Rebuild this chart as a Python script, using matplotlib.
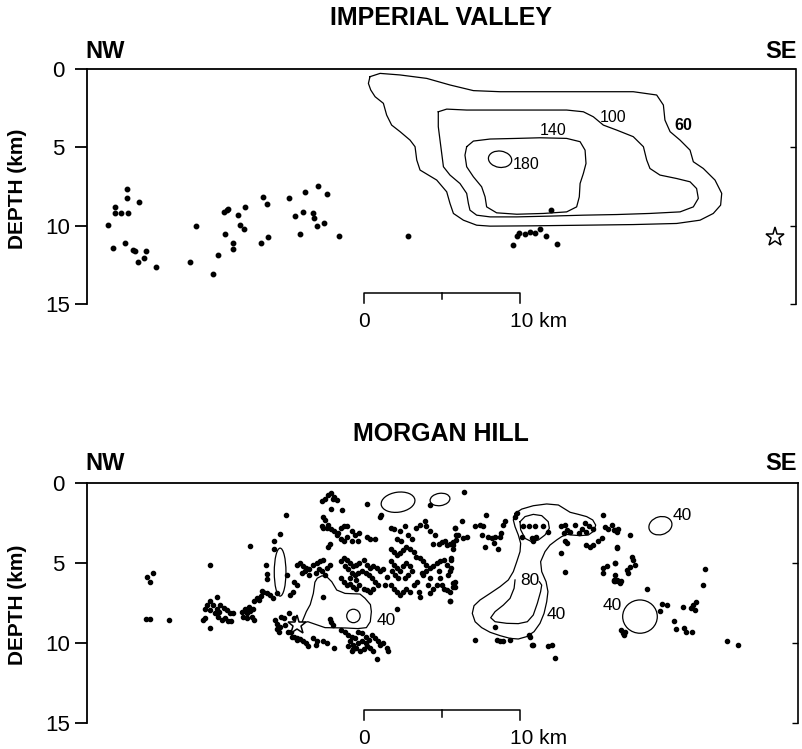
import matplotlib
matplotlib.use('Agg')
import matplotlib.pyplot as plt
from matplotlib.patches import Ellipse

plt.rcParams['font.family'] = ['Liberation Sans', 'DejaVu Sans']

# ---------------- DATA ----------------
depth_ticks = [0, 5, 10, 15]
depth_labels = ['0', '5', '10', '15']

# Imperial Valley earthquakes (x along strike km, depth km)
iv_eq_x = [-16.39, -16.07, -15.96, -15.96, -15.58, -15.17, -15.17, -15.11, -15.32, -14.83,
           -14.68, -14.47, -14.40, -14.10, -13.97, -13.35, -11.15, -10.79, -9.66, -9.34,
           -8.95, -8.80, -8.70, -8.89, -8.42, -8.38, -8.10, -7.95, -7.67, -7.61,
           -6.60, -6.45, -6.24, -6.18, -4.79, -4.42, -4.10, -3.78, -3.89, -3.25,
           -3.21, -3.03, -2.93, -2.56, -2.35, -1.58,
           2.84, 11.99, 9.57, 9.79, 9.96, 10.32, 10.64, 10.96, 11.28, 11.65, 12.39]
iv_eq_d = [9.97, 11.42, 8.80, 9.22, 9.22, 7.69, 8.26, 9.18, 11.08, 11.57,
           11.63, 12.31, 8.48, 12.06, 11.63, 12.67, 12.31, 10.03, 13.06, 11.88,
           9.12, 9.01, 8.95, 10.50, 11.08, 11.50, 9.33, 9.93, 10.22, 8.80,
           11.08, 8.16, 8.63, 10.71, 8.22, 9.39, 10.54, 7.88, 9.12, 9.16,
           9.54, 10.01, 7.45, 9.80, 8.01, 10.63,
           10.67, 9.01, 11.25, 10.65, 10.46, 10.50, 10.42, 10.44, 10.20, 10.65, 11.18]
iv_star = (26.35, 10.71)

# Imperial Valley slip contours (cm)
iv_c60_x = [0.38, 1.03, 2.31, 4.02, 5.51, 7.01, 8.72, 10.85, 14.06, 17.26, 18.76, 19.19, 19.29,
            19.62, 20.26, 20.90, 21.11, 21.75, 22.50, 22.93, 22.86, 22.39, 21.54, 20.04, 17.26,
            14.06, 10.85, 8.08, 7.22, 6.37, 5.73, 5.51, 5.30, 4.66, 3.59, 3.38, 3.27, 2.95, 2.31,
            1.77, 1.45, 1.24, 0.71, 0.43, 0.28, 0.38]
iv_c60_d = [0.49, 0.28, 0.38, 0.60, 1.02, 1.38, 1.45, 1.45, 1.45, 1.45, 1.66, 2.30, 3.26,
            4.00, 4.54, 5.18, 5.92, 6.35, 7.09, 7.94, 8.69, 9.22, 9.65, 9.86, 9.93,
            9.97, 10.01, 10.03, 9.97, 9.65, 9.22, 8.58, 7.84, 7.09, 6.45, 5.81, 4.96, 4.54, 4.00,
            3.58, 2.94, 2.19, 1.77, 1.34, 0.92, 0.49]
iv_c100_x = [4.76, 5.30, 6.58, 8.72, 10.85, 12.99, 14.06, 14.70, 15.34, 16.20, 17.26, 17.91, 18.12,
             18.33, 18.97, 20.04, 20.90, 21.32, 21.43, 21.11, 20.26, 18.33, 16.20, 14.06, 11.92,
             9.79, 8.08, 7.22, 6.79, 6.69, 6.58, 6.15, 5.51, 5.09, 4.98, 4.87, 4.76, 4.76]
iv_c100_d = [2.73, 2.56, 2.62, 2.62, 2.62, 2.62, 2.73, 3.05, 3.58, 3.90, 4.32, 4.96, 5.81,
             6.35, 6.77, 6.99, 7.20, 7.63, 8.26, 8.80, 9.12, 9.22, 9.29, 9.33, 9.39,
             9.44, 9.44, 9.33, 9.01, 8.58, 7.94, 7.31, 6.77, 6.24, 5.39, 4.54, 3.68, 2.73]
iv_c140_x = [6.58, 7.01, 8.08, 9.79, 11.28, 12.99, 13.85, 14.17, 14.23, 14.06, 13.85, 13.80,
             13.63, 12.99, 11.50, 9.79, 8.50, 7.86, 7.76, 7.54, 7.01, 6.58, 6.47, 6.58]
iv_c140_d = [4.96, 4.60, 4.47, 4.43, 4.39, 4.43, 4.64, 5.18, 6.03, 6.67, 7.31, 8.16,
             8.80, 9.12, 9.22, 9.27, 9.18, 8.80, 8.16, 7.52, 6.88, 6.24, 5.50, 4.96]
iv_c180 = (8.72, 5.76, 1.5, 1.04)  # centre x, centre depth, width, height
iv_labels = ['60', '100', '140', '180']
iv_label_x = [20.47, 15.98, 12.14, 10.36]
iv_label_d = [3.60, 3.07, 3.94, 6.07]

# Morgan Hill earthquakes (x km, depth km)
mh_west = [(-5.0, 2.0), (-5.4, 3.2), (-5.8, 3.6), (-7.3, 3.95), (-5.8, 4.15), (-9.9, 5.1),
           (-13.9, 5.85), (-13.55, 5.65), (-13.7, 6.2), (-14.0, 8.5), (-13.7, 8.5), (-12.5, 8.55),
           (-6.3, 5.1), (-6.25, 5.7), (-6.2, 6.0), (-4.95, 5.75), (-9.9, 9.05),
           (-9.4, 7.1), (-9.9, 7.4), (-10.05, 7.6), (-10.2, 7.85), (-9.7, 7.65), (-9.4, 7.9),
           (-9.25, 7.6), (-9.0, 7.8), (-8.8, 7.95), (-8.6, 8.1), (-8.4, 8.15), (-9.55, 8.15),
           (-9.35, 8.35), (-9.1, 8.55), (-8.9, 8.45), (-8.7, 8.65), (-8.5, 8.65), (-10.2, 8.45),
           (-10.35, 8.55), (-9.9, 7.95), (-9.3, 8.05),
           (-7.85, 8.05), (-7.65, 7.85), (-7.5, 8.15), (-7.3, 8.0), (-7.1, 7.9), (-7.2, 8.35),
           (-7.5, 8.45), (-7.05, 8.55), (-7.75, 8.35), (-7.35, 7.75),
           (-7.05, 7.4), (-6.85, 7.2), (-6.6, 7.05), (-6.45, 6.8), (-6.25, 6.85), (-6.0, 7.0),
           (-5.85, 7.2), (-6.75, 7.3), (-6.55, 6.75), (-5.6, 6.9), (-4.75, 7.0), (-4.55, 6.8),
           (-4.8, 8.15), (-5.7, 8.55), (-5.55, 8.8), (-5.4, 9.0), (-5.6, 9.1), (-5.15, 8.45),
           (-5.05, 8.85), (-4.9, 9.3), (-5.3, 8.35), (-5.45, 9.3), (-4.65, 9.6), (-4.3, 9.8),
           (-4.5, 8.45)]
mh_center = [(-2.7, 1.1), (-2.5, 1.0), (-2.3, 0.75), (-2.1, 0.65), (-1.9, 0.85), (-1.75, 1.06),
             (-2.0, 1.0), (-2.1, 1.6), (-1.4, 1.7), (0.2, 1.3), (1.0, 2.1), (-2.6, 2.1), (-2.5, 2.3),
             (1.1, 2.0), (4.2, 1.4),
             (-2.7, 2.7), (-2.6, 2.8), (-2.4, 2.8), (-2.3, 2.6), (-2.1, 2.9), (-1.9, 3.0), (-1.5, 2.8),
             (-1.3, 2.7), (-1.1, 2.7), (-1.75, 3.25), (-1.5, 3.5), (-1.3, 3.6), (-1.1, 3.4),
             (-1.65, 3.15), (-0.8, 3.0), (-0.6, 3.25), (-0.3, 3.15), (0.2, 3.35), (0.4, 3.5),
             (0.7, 3.5), (-0.8, 3.6), (-0.4, 3.6), (-2.3, 4.0), (-2.2, 3.8),
             (1.7, 2.8), (1.9, 2.9), (2.3, 3.0), (2.6, 2.7), (2.8, 3.25), (3.1, 3.5), (3.3, 2.8),
             (2.1, 3.5), (2.4, 3.6), (3.6, 2.6), (3.9, 2.4), (4.0, 2.7), (4.2, 3.0), (4.55, 3.25),
             (4.4, 3.8), (4.8, 3.8), (5.0, 3.7), (5.2, 3.6), (5.3, 3.9), (5.5, 3.8), (5.7, 3.7),
             (5.8, 2.8), (5.9, 3.25), (5.7, 4.1), (5.6, 4.7),
             (-4.3, 5.1), (-4.1, 5.0), (-3.9, 5.2), (-3.7, 5.3), (-3.8, 5.5), (-4.0, 5.65),
             (-3.5, 5.4), (-3.25, 5.1), (-3.0, 5.0), (-2.8, 4.9), (-2.6, 4.8), (-2.9, 5.4),
             (-3.1, 5.65), (-2.7, 5.5), (-2.4, 5.3), (-2.2, 5.1), (-2.5, 5.75), (-3.5, 5.75),
             (-4.3, 6.4), (-4.5, 6.2),
             (-1.5, 4.9), (-1.3, 4.7), (-1.1, 4.8), (-0.9, 5.0), (-0.7, 5.2), (-0.5, 5.1),
             (-0.3, 5.0), (0.0, 4.8), (0.2, 5.1), (0.4, 5.3), (0.6, 5.2), (0.8, 5.3), (1.0, 5.5),
             (1.2, 5.4), (-1.2, 5.2), (-1.0, 5.4), (-0.8, 5.65), (-0.6, 5.75), (-0.4, 5.6),
             (-0.15, 5.5), (0.1, 5.65), (0.3, 5.75), (0.5, 5.95), (0.7, 6.2), (0.9, 6.4),
             (-1.5, 5.95), (-1.3, 6.2), (-1.1, 6.4), (-0.9, 6.3), (-0.7, 6.5), (-0.5, 6.6),
             (-0.3, 6.4), (0.0, 6.6), (0.2, 6.7), (0.4, 6.8), (0.6, 6.6), (-0.9, 5.95), (-0.5, 6.05),
             (1.7, 4.1), (1.9, 4.3), (2.1, 4.5), (2.3, 4.4), (2.5, 4.2), (2.7, 4.0), (2.95, 4.1),
             (3.2, 4.3), (3.3, 4.6), (3.6, 4.7), (3.8, 4.9), (4.0, 5.1), (4.2, 5.3), (4.4, 5.2),
             (4.65, 5.0), (4.9, 4.9), (5.1, 4.8), (5.3, 5.1), (5.5, 5.5), (5.6, 5.3), (5.4, 5.75),
             (4.8, 5.5), (4.9, 5.95), (5.0, 6.4), (4.65, 6.4), (5.1, 6.6), (5.3, 6.7), (5.5, 6.8),
             (5.7, 6.5), (5.8, 6.2),
             (1.7, 4.9), (1.9, 5.1), (2.1, 5.3), (2.3, 5.5), (2.5, 5.2), (2.7, 5.0), (2.95, 5.2),
             (3.1, 5.5), (2.8, 5.75), (2.6, 5.95), (2.2, 5.95), (2.0, 5.75), (1.8, 5.5),
             (1.45, 5.85), (1.35, 6.4), (1.7, 6.4), (1.9, 6.6), (2.1, 6.8), (2.3, 7.0), (2.5, 6.8),
             (2.7, 6.6), (2.95, 6.8), (3.2, 6.4), (3.4, 6.2), (3.5, 6.8), (3.6, 7.1), (3.8, 5.75),
             (4.0, 5.5), (4.2, 5.95), (4.1, 6.4), (4.4, 6.6), (4.2, 6.9), (5.5, 7.4), (3.7, 5.65),
             (-2.6, 7.1), (-2.1, 8.7), (-2.0, 8.9), (-2.2, 8.5),
             (-4.7, 9.3), (-4.5, 9.6), (-4.3, 9.7), (-4.1, 9.75), (-3.9, 9.9), (-3.7, 10.0),
             (-3.6, 10.2), (-3.25, 9.7), (-3.0, 9.9), (-3.1, 10.1), (-2.6, 9.9), (-2.4, 10.0),
             (-1.9, 10.3), (-1.5, 9.2), (-1.2, 9.3), (-1.0, 9.5), (-0.8, 9.6), (-0.6, 9.7),
             (-0.4, 9.3), (-0.15, 9.4), (0.1, 9.6), (0.3, 9.8), (0.5, 9.5), (0.7, 9.7), (0.9, 9.9),
             (1.0, 10.1), (1.2, 10.0), (1.45, 10.3), (1.55, 10.5), (-0.9, 9.9), (-0.7, 10.1),
             (-0.5, 10.3), (-0.25, 10.5), (0.0, 10.4), (0.2, 10.2), (0.4, 10.3), (0.6, 10.5),
             (0.8, 11.0), (-0.7, 10.4), (-0.15, 9.9), (-1.0, 10.2), (2.1, 7.9), (-0.4, 10.0),
             (0.1, 10.0), (-0.8, 10.5)]
mh_east = [(6.4, 0.55), (5.8, 2.8), (6.05, 3.25), (5.9, 3.55), (5.7, 3.9), (6.25, 2.4), (6.35, 3.45),
           (6.6, 3.35), (7.1, 2.7), (7.45, 2.6), (7.55, 3.25), (7.65, 2.7), (7.85, 2.0), (7.75, 4.0),
           (7.95, 3.35), (8.2, 3.45), (8.3, 3.75), (8.4, 3.35), (8.6, 4.1), (8.7, 3.35), (8.8, 3.15),
           (8.9, 2.6), (9.05, 2.4), (5.7, 6.25), (5.8, 6.5), (5.5, 7.4), (5.6, 4.8), (9.7, 2.1),
           (9.8, 1.9), (10.2, 2.7), (10.6, 2.7), (10.95, 2.7), (11.5, 2.7), (11.8, 3.05), (10.1, 3.35),
           (10.75, 3.45), (11.05, 3.35), (10.85, 3.6), (12.65, 2.7), (12.9, 2.6), (13.0, 2.95),
           (12.8, 3.15), (13.2, 3.05), (13.55, 2.6), (13.75, 3.15), (13.95, 2.85), (14.15, 2.5),
           (14.4, 2.7), (14.25, 3.05), (14.7, 2.85), (15.35, 2.0), (15.45, 2.75), (15.65, 2.85),
           (16.0, 2.95), (16.2, 3.05), (12.9, 3.65), (13.0, 3.75), (12.65, 4.4), (14.25, 3.9),
           (14.5, 4.0), (14.7, 3.85), (15.0, 3.65), (15.25, 3.45), (16.2, 4.0), (15.35, 5.3),
           (15.55, 5.2), (15.3, 5.65), (16.1, 5.0), (12.9, 5.55), (16.0, 6.05), (16.1, 6.15),
           (7.1, 9.8), (8.5, 9.8), (8.7, 9.9), (8.9, 9.9), (9.35, 9.8), (10.55, 9.5), (10.65, 9.6),
           (10.75, 10.1), (10.85, 10.1), (11.8, 10.2), (12.05, 10.1), (12.25, 10.95), (8.4, 9.0)]
mh_far_east = [(15.9, 2.6), (16.1, 2.95), (16.3, 2.9), (17.05, 3.25), (16.2, 4.05), (16.1, 5.0),
               (17.15, 4.6), (17.25, 4.8), (17.35, 5.1), (17.05, 5.25), (16.85, 5.45), (16.95, 5.6),
               (16.1, 5.75), (16.2, 6.05), (16.3, 6.15), (16.4, 6.25), (16.0, 6.15), (16.5, 6.15),
               (18.15, 6.6), (19.1, 7.55), (19.45, 7.6), (18.95, 8.0), (20.45, 7.75), (20.95, 7.8),
               (21.1, 7.6), (21.3, 7.45), (21.2, 7.95), (19.85, 8.65), (20.0, 9.1), (20.5, 9.05),
               (20.65, 9.3), (21.0, 9.3), (21.85, 5.35), (21.75, 6.4), (23.3, 9.9), (23.95, 10.1),
               (16.5, 9.2), (16.6, 9.4), (16.75, 9.3), (16.65, 9.5)]
mh_star = (-4.3, 8.9)

# Morgan Hill slip contours (cm)
mh_c40a_x = [-4.0, -3.7, -3.45, -3.25, -3.15, -3.0, -2.7, -2.4, -2.07, -1.75, -1.22, -0.26, 0.06,
             0.41, 0.47, 0.4, 0.15, -0.4, -1.2, -2.5, -3.6, -4.0]
mh_c40a_d = [8.75, 8.04, 7.6, 6.9, 6.2, 5.95, 5.8, 5.85, 6.17, 6.69, 6.9, 6.94, 7.2,
             7.6, 8.04, 8.67, 9.04, 9.1, 9.06, 9.04, 8.67, 8.75]
mh_c40b_x = [9.68, 10.11, 10.85, 11.71, 12.46, 12.88, 13.21, 13.74, 14.27, 14.66, 14.85, 14.74,
             14.38, 13.85, 13.31, 12.99, 12.67, 12.35, 11.92, 11.6, 11.32, 11.39, 11.67, 11.79,
             11.71, 11.54, 11.28, 10.9, 10.43, 9.89, 9.36, 8.72, 8.08, 7.54, 7.12, 6.94, 7.05,
             7.44, 8.08, 8.72, 9.25, 9.57, 9.79, 10.0, 10.04, 9.89, 9.68, 9.57, 9.68]
mh_c40b_d = [1.9, 1.63, 1.42, 1.31, 1.375, 1.63, 1.83, 1.96, 2.10, 2.31, 2.63, 3.0,
             3.25, 3.29, 3.25, 3.21, 3.35, 3.56, 3.88, 4.29, 4.92, 5.54, 6.17, 6.79,
             7.42, 8.15, 8.77, 9.29, 9.6, 9.75, 9.71, 9.54, 9.33, 9.04, 8.67, 8.15, 7.67,
             7.31, 6.9, 6.48, 6.06, 5.54, 4.92, 4.29, 3.77, 3.25, 2.73, 2.31, 1.9]
mh_c80a_x = [10.0, 10.32, 10.85, 11.39, 11.81, 11.88, 11.6, 11.18, 10.75, 10.32, 10.04, 10.0]
mh_c80a_d = [2.42, 2.10, 1.96, 2.04, 2.42, 2.83, 3.25, 3.56, 3.67, 3.46, 2.92, 2.42]
mh_c80b_x = [9.68, 9.62, 9.36, 8.93, 8.4, 8.12, 8.4, 9.15, 9.89, 10.47, 10.85, 11.11, 11.32, 11.39, 11.24]
mh_c80b_d = [6.06, 6.58, 7.21, 7.63, 8.04, 8.42, 8.67, 8.77, 8.79, 8.67, 8.25, 7.52, 6.79, 6.38, 6.17]
# simple closed 40 cm contours: centre x, centre depth, width, height, tilt
mh_ell_x = [-5.38, 2.18, 4.87, -0.68, 19.0, 17.69]
mh_ell_d = [5.57, 1.20, 1.03, 8.31, 2.67, 8.35]
mh_ell_w = [0.75, 2.18, 1.28, 0.86, 1.5, 2.22]
mh_ell_h = [3.0, 1.25, 0.77, 0.84, 1.12, 2.08]
mh_ell_a = [0, -8, -8, 0, -15, 0]
mh_labels = ['40', '80', '40', '40', '40']
mh_label_x = [1.45, 10.6, 12.35, 15.9, 20.4]
mh_label_d = [8.6, 6.1, 8.2, 7.65, 2.0]

# ---------------- FIGURE ----------------
fig = plt.figure(figsize=(8.02, 7.49), dpi=100)
ax1 = fig.add_axes([87 / 802, 1 - 304 / 749, (795.5 - 87) / 802, 235 / 749])
ax2 = fig.add_axes([87 / 802, 1 - 723 / 749, (798 - 87) / 802, 240 / 749])


def style(ax, xmax):
    ax.set_xlim(-17.76, xmax)
    ax.set_ylim(15, 0)
    ax.set_xticks([])
    ax.set_yticks(depth_ticks)
    ax.set_yticklabels(depth_labels)
    ax.tick_params(axis='y', direction='out', length=9, width=1.3, labelsize=16, pad=12)
    for lbl in ax.get_yticklabels():
        lbl.set_horizontalalignment('center')
    ax.spines['bottom'].set_visible(False)
    ax.spines['right'].set_visible(False)
    for s in ('left', 'top'):
        ax.spines[s].set_linewidth(1.3)
    sec = ax.secondary_yaxis('right')
    sec.set_yticks([5, 10, 15])
    sec.tick_params(direction='in', length=4, width=1.0, labelright=False)
    sec.spines['right'].set_linewidth(1.2)


def scale_bar(ax, y, mid_end, end, lbl_y):
    ax.plot([0, 0, 10, 10], [end, y, y, end], color='k', lw=1.1, clip_on=False)
    ax.plot([5, 5], [y, mid_end], color='k', lw=1.1, clip_on=False)
    ax.text(0, lbl_y, '0', ha='center', va='center', fontsize=15)
    ax.text(9.36, lbl_y, '10 km', ha='left', va='center', fontsize=15)


style(ax1, 27.66)
style(ax2, 27.82)

# --- Imperial Valley ---
for cx, cd in [(iv_c60_x, iv_c60_d), (iv_c100_x, iv_c100_d), (iv_c140_x, iv_c140_d)]:
    ax1.plot(cx, cd, color='k', lw=0.9)
ax1.add_patch(Ellipse((iv_c180[0], iv_c180[1]), iv_c180[2], iv_c180[3], angle=8,
                      fill=False, ec='k', lw=0.9))
for t, x, d in zip(iv_labels, iv_label_x, iv_label_d):
    ax1.text(x, d, t, ha='center', va='center', fontsize=11.5,
             fontweight='bold' if t == '60' else 'normal')
ax1.plot(iv_eq_x, iv_eq_d, 'o', ms=3.2, color='k', mec='k', ls='none')
ax1.plot([iv_star[0]], [iv_star[1]], marker='*', ms=14, mfc='white', mec='k', mew=1.1,
         ls='none', clip_on=False, zorder=5)
scale_bar(ax1, 14.28, 14.7, 14.96, 16.1)

# --- Morgan Hill ---
for cx, cd in [(mh_c40a_x, mh_c40a_d), (mh_c40b_x, mh_c40b_d), (mh_c80a_x, mh_c80a_d),
               (mh_c80b_x, mh_c80b_d)]:
    ax2.plot(cx, cd, color='k', lw=0.9)
for x, d, w, h, a in zip(mh_ell_x, mh_ell_d, mh_ell_w, mh_ell_h, mh_ell_a):
    ax2.add_patch(Ellipse((x, d), w, h, angle=a, fill=False, ec='k', lw=0.9))
for t, x, d in zip(mh_labels, mh_label_x, mh_label_d):
    ax2.text(x, d, t, ha='center', va='center', fontsize=12.5)
for grp in (mh_west, mh_center, mh_east, mh_far_east):
    ax2.plot([p[0] for p in grp], [p[1] for p in grp], 'o', ms=3.0, color='k', mec='k', ls='none')
ax2.plot([mh_star[0]], [mh_star[1]], marker='*', ms=14, mfc='white', mec='k', mew=1.1,
         ls='none', zorder=5)
scale_bar(ax2, 14.19, 14.6, 14.81, 15.94)

# --- titles and labels ---
fig.text(441 / 802, 1 - 18 / 749, 'IMPERIAL VALLEY', ha='center', va='center',
         fontsize=18, fontweight='bold')
fig.text(441 / 802, 1 - 434.5 / 749, 'MORGAN HILL', ha='center', va='center',
         fontsize=18, fontweight='bold')
for yc in (51, 464):
    fig.text(85 / 802, 1 - yc / 749, 'NW', ha='left', va='center', fontsize=17, fontweight='bold')
    fig.text(797 / 802, 1 - yc / 749, 'SE', ha='right', va='center', fontsize=17, fontweight='bold')
fig.text(18 / 802, 1 - 189 / 749, 'DEPTH (km)', rotation=90, ha='center', va='center',
         fontsize=15, fontweight='bold')
fig.text(18 / 802, 1 - 605 / 749, 'DEPTH (km)', rotation=90, ha='center', va='center',
         fontsize=15, fontweight='bold')

fig.savefig('out.png', dpi=100)
